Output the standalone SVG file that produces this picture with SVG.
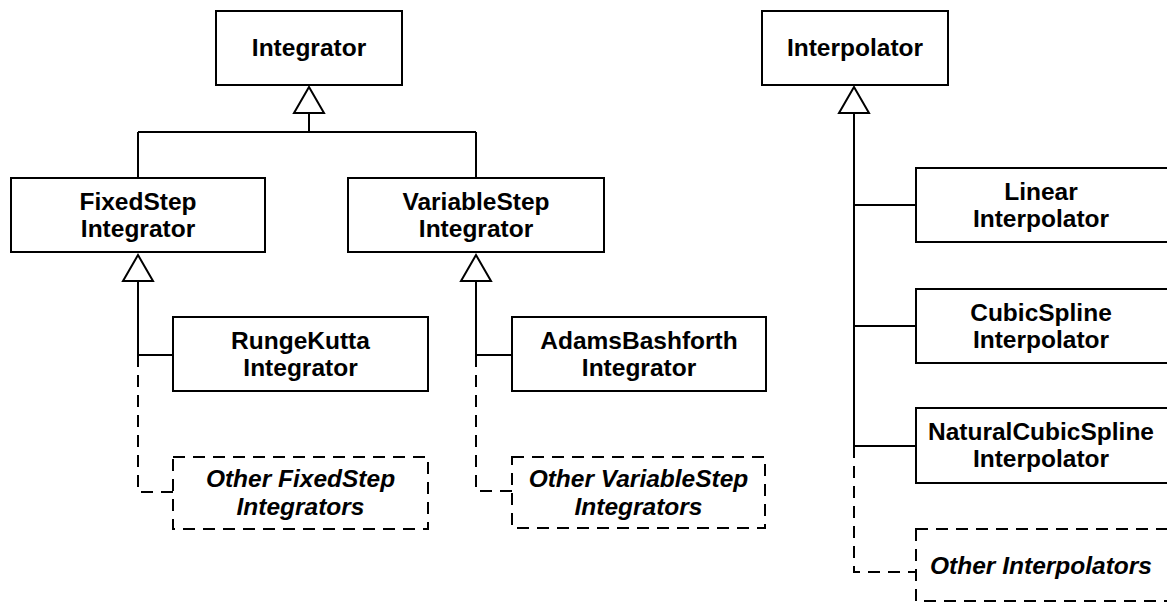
<svg xmlns="http://www.w3.org/2000/svg" width="1167" height="603" viewBox="0 0 1167 603">
  <style>
    .box { fill: #fff; stroke: #000; stroke-width: 2; }
    .dbox { fill: #fff; stroke: #000; stroke-width: 2; stroke-dasharray: 12 8; }
    .line { fill: none; stroke: #000; stroke-width: 2; }
    .dline { fill: none; stroke: #000; stroke-width: 2; stroke-dasharray: 12 8; }
    .tri { fill: #fff; stroke: #000; stroke-width: 2; stroke-linejoin: miter; }
    text { font-family: "Liberation Sans", Arial, Helvetica, sans-serif; font-size: 24.5px; font-weight: bold; text-anchor: middle; fill: #000; }
    .it { font-style: italic; }
  </style>

  <rect width="1167" height="603" fill="#fff"/>

  <g id="connectors">
    <!-- Integrator hierarchy -->
    <path class="line" d="M309 113 V132 M138 132 H476 M138 132 V178 M476 132 V178"/>
    <path class="line" d="M138 281 V355 H173"/>
    <path class="dline" d="M138 355 V492 H173"/>
    <path class="line" d="M476 281 V355 H512"/>
    <path class="dline" d="M476 355 V491 H512"/>
    <!-- Interpolator hierarchy -->
    <path class="line" d="M854 113 V446 M854 205 H916 M854 326 H916 M854 446 H916"/>
    <path class="dline" d="M854 446 V572 H916"/>
    <!-- generalization triangles -->
    <polygon class="tri" points="309,87 294,113 324,113"/>
    <polygon class="tri" points="138,255 123,281 153,281"/>
    <polygon class="tri" points="476,255 461,281 491,281"/>
    <polygon class="tri" points="854,87 839,113 869,113"/>
  </g>

  <g id="integrator">
    <rect class="box" x="216" y="11" width="186" height="74"/>
    <text x="309" y="56">Integrator</text>
  </g>
  <g id="fixed-step">
    <rect class="box" x="11" y="178" width="254" height="74"/>
    <text x="138" y="210">FixedStep</text>
    <text x="138" y="237">Integrator</text>
  </g>
  <g id="variable-step">
    <rect class="box" x="348" y="178" width="256" height="74"/>
    <text x="476" y="210">VariableStep</text>
    <text x="476" y="237">Integrator</text>
  </g>
  <g id="runge-kutta">
    <rect class="box" x="173" y="317" width="255" height="74"/>
    <text x="300.5" y="349">RungeKutta</text>
    <text x="300.5" y="376">Integrator</text>
  </g>
  <g id="adams-bashforth">
    <rect class="box" x="512" y="317" width="254" height="74"/>
    <text x="639" y="349">AdamsBashforth</text>
    <text x="639" y="376">Integrator</text>
  </g>
  <g id="other-fixed-step">
    <rect class="dbox" x="173" y="457" width="255" height="72"/>
    <text class="it" x="300.5" y="487">Other FixedStep</text>
    <text class="it" x="300.5" y="515">Integrators</text>
  </g>
  <g id="other-variable-step">
    <rect class="dbox" x="512" y="457" width="253" height="71"/>
    <text class="it" x="638.5" y="487">Other VariableStep</text>
    <text class="it" x="638.5" y="515">Integrators</text>
  </g>

  <g id="interpolator">
    <rect class="box" x="762" y="11" width="186" height="74"/>
    <text x="855" y="56">Interpolator</text>
  </g>
  <g id="linear">
    <rect class="box" x="916" y="168" width="254" height="74"/>
    <text x="1041" y="200">Linear</text>
    <text x="1041" y="227">Interpolator</text>
  </g>
  <g id="cubic-spline">
    <rect class="box" x="916" y="289" width="254" height="74"/>
    <text x="1041" y="321">CubicSpline</text>
    <text x="1041" y="348">Interpolator</text>
  </g>
  <g id="natural-cubic-spline">
    <rect class="box" x="916" y="408" width="254" height="75"/>
    <text x="1041" y="440">NaturalCubicSpline</text>
    <text x="1041" y="467">Interpolator</text>
  </g>
  <g id="other-interpolators">
    <rect class="dbox" x="916" y="529" width="254" height="72"/>
    <text class="it" x="1041" y="574">Other Interpolators</text>
  </g>
</svg>
